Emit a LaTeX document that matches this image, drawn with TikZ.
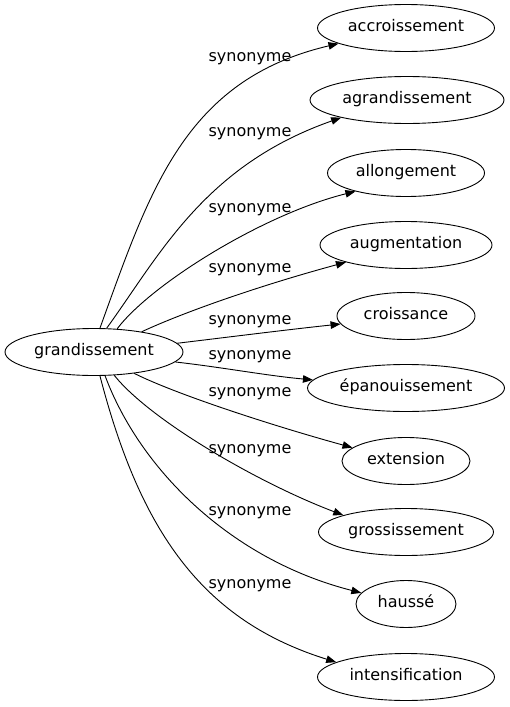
\documentclass[tikz,border=0pt]{standalone}
\usepackage{fontspec}
\setmainfont{DejaVu Sans}
\usetikzlibrary{shapes.geometric,arrows.meta}

\tikzset{
  word/.style={draw, ellipse, line width=0.9pt, inner sep=0pt, minimum height=47pt,
    text height=11.7pt, text depth=3.8pt, font=\fontsize{16pt}{19pt}\selectfont},
  rel/.style={anchor=base, inner sep=0pt, font=\fontsize{16pt}{19pt}\selectfont},
  link/.style={line width=0.9pt, -{Triangle[length=10pt,width=7.5pt]}},
}

\begin{document}
\begin{tikzpicture}[x=1pt, y=-1pt]
			%%%%% START %%%%%
			\useasboundingbox (0, 0) rectangle (509, 707);
			
			\node[word, minimum width=178pt] (g) at (94, 352) {grandissement};
			
			\node[word, minimum width=177pt] (t1) at (406, 28) {accroissement};
			\node[word, minimum width=194pt] (t2) at (407, 100) {agrandissement};
			\node[word, minimum width=157pt] (t3) at (406, 173) {allongement};
			\node[word, minimum width=172pt] (t4) at (406, 245) {augmentation};
			\node[word, minimum width=138pt] (t5) at (406, 316) {croissance};
			\node[word, minimum width=197pt] (t6) at (406, 388) {épanouissement};
			\node[word, minimum width=128pt] (t7) at (406, 461) {extension};
			\node[word, minimum width=175pt] (t8) at (406, 532) {grossissement};
			\node[word, minimum width=100pt] (t9) at (406, 604) {haussé};
			\node[word, minimum width=177pt] (t10) at (406, 677) {intensification};
			
			\draw[link] (g.76) .. controls +(50, -138) and +(-154, 36) .. (t1.193);
			\draw[link] (g.62) .. controls +(53, -73) and +(-137, 48) .. (t2.195);
			\draw[link] (g.45) .. controls +(33, -44) and +(-93, 23) .. (t3.200);
			\draw[link] (g.23) .. controls +(43, -20) and +(-85, 23) .. (t4.196);
			\draw[link] (g.6) .. controls +(50, -6) and +(-48, 5) .. (t5.187);
			\draw[link] (g.-7) .. controls +(45, 5) and +(-45, -4) .. (t6.175);
			\draw[link] (g.-28) .. controls +(42, 21) and +(-80, -22) .. (t7.166);
			\draw[link] (g.-49) .. controls +(35, 44) and +(-87, -33) .. (t8.165);
			\draw[link] (g.-65) .. controls +(35, 94) and +(-130, -33) .. (t9.166);
			\draw[link] (g.-76) .. controls +(40, 154) and +(-135, -42) .. (t10.168);
			
			\node[rel] (s1) at (250, 61) {synonyme};
			\node[rel] (s2) at (250, 136) {synonyme};
			\node[rel] (s3) at (250, 212) {synonyme};
			\node[rel] (s4) at (250, 272) {synonyme};
			\node[rel] (s5) at (250, 324) {synonyme};
			\node[rel] (s6) at (250, 359) {synonyme};
			\node[rel] (s7) at (250, 396) {synonyme};
			\node[rel] (s8) at (250, 453) {synonyme};
			\node[rel] (s9) at (250, 515) {synonyme};
			\node[rel] (s10) at (250, 588) {synonyme};
			
			%%%%% END %%%%%
\end{tikzpicture}
\end{document}
